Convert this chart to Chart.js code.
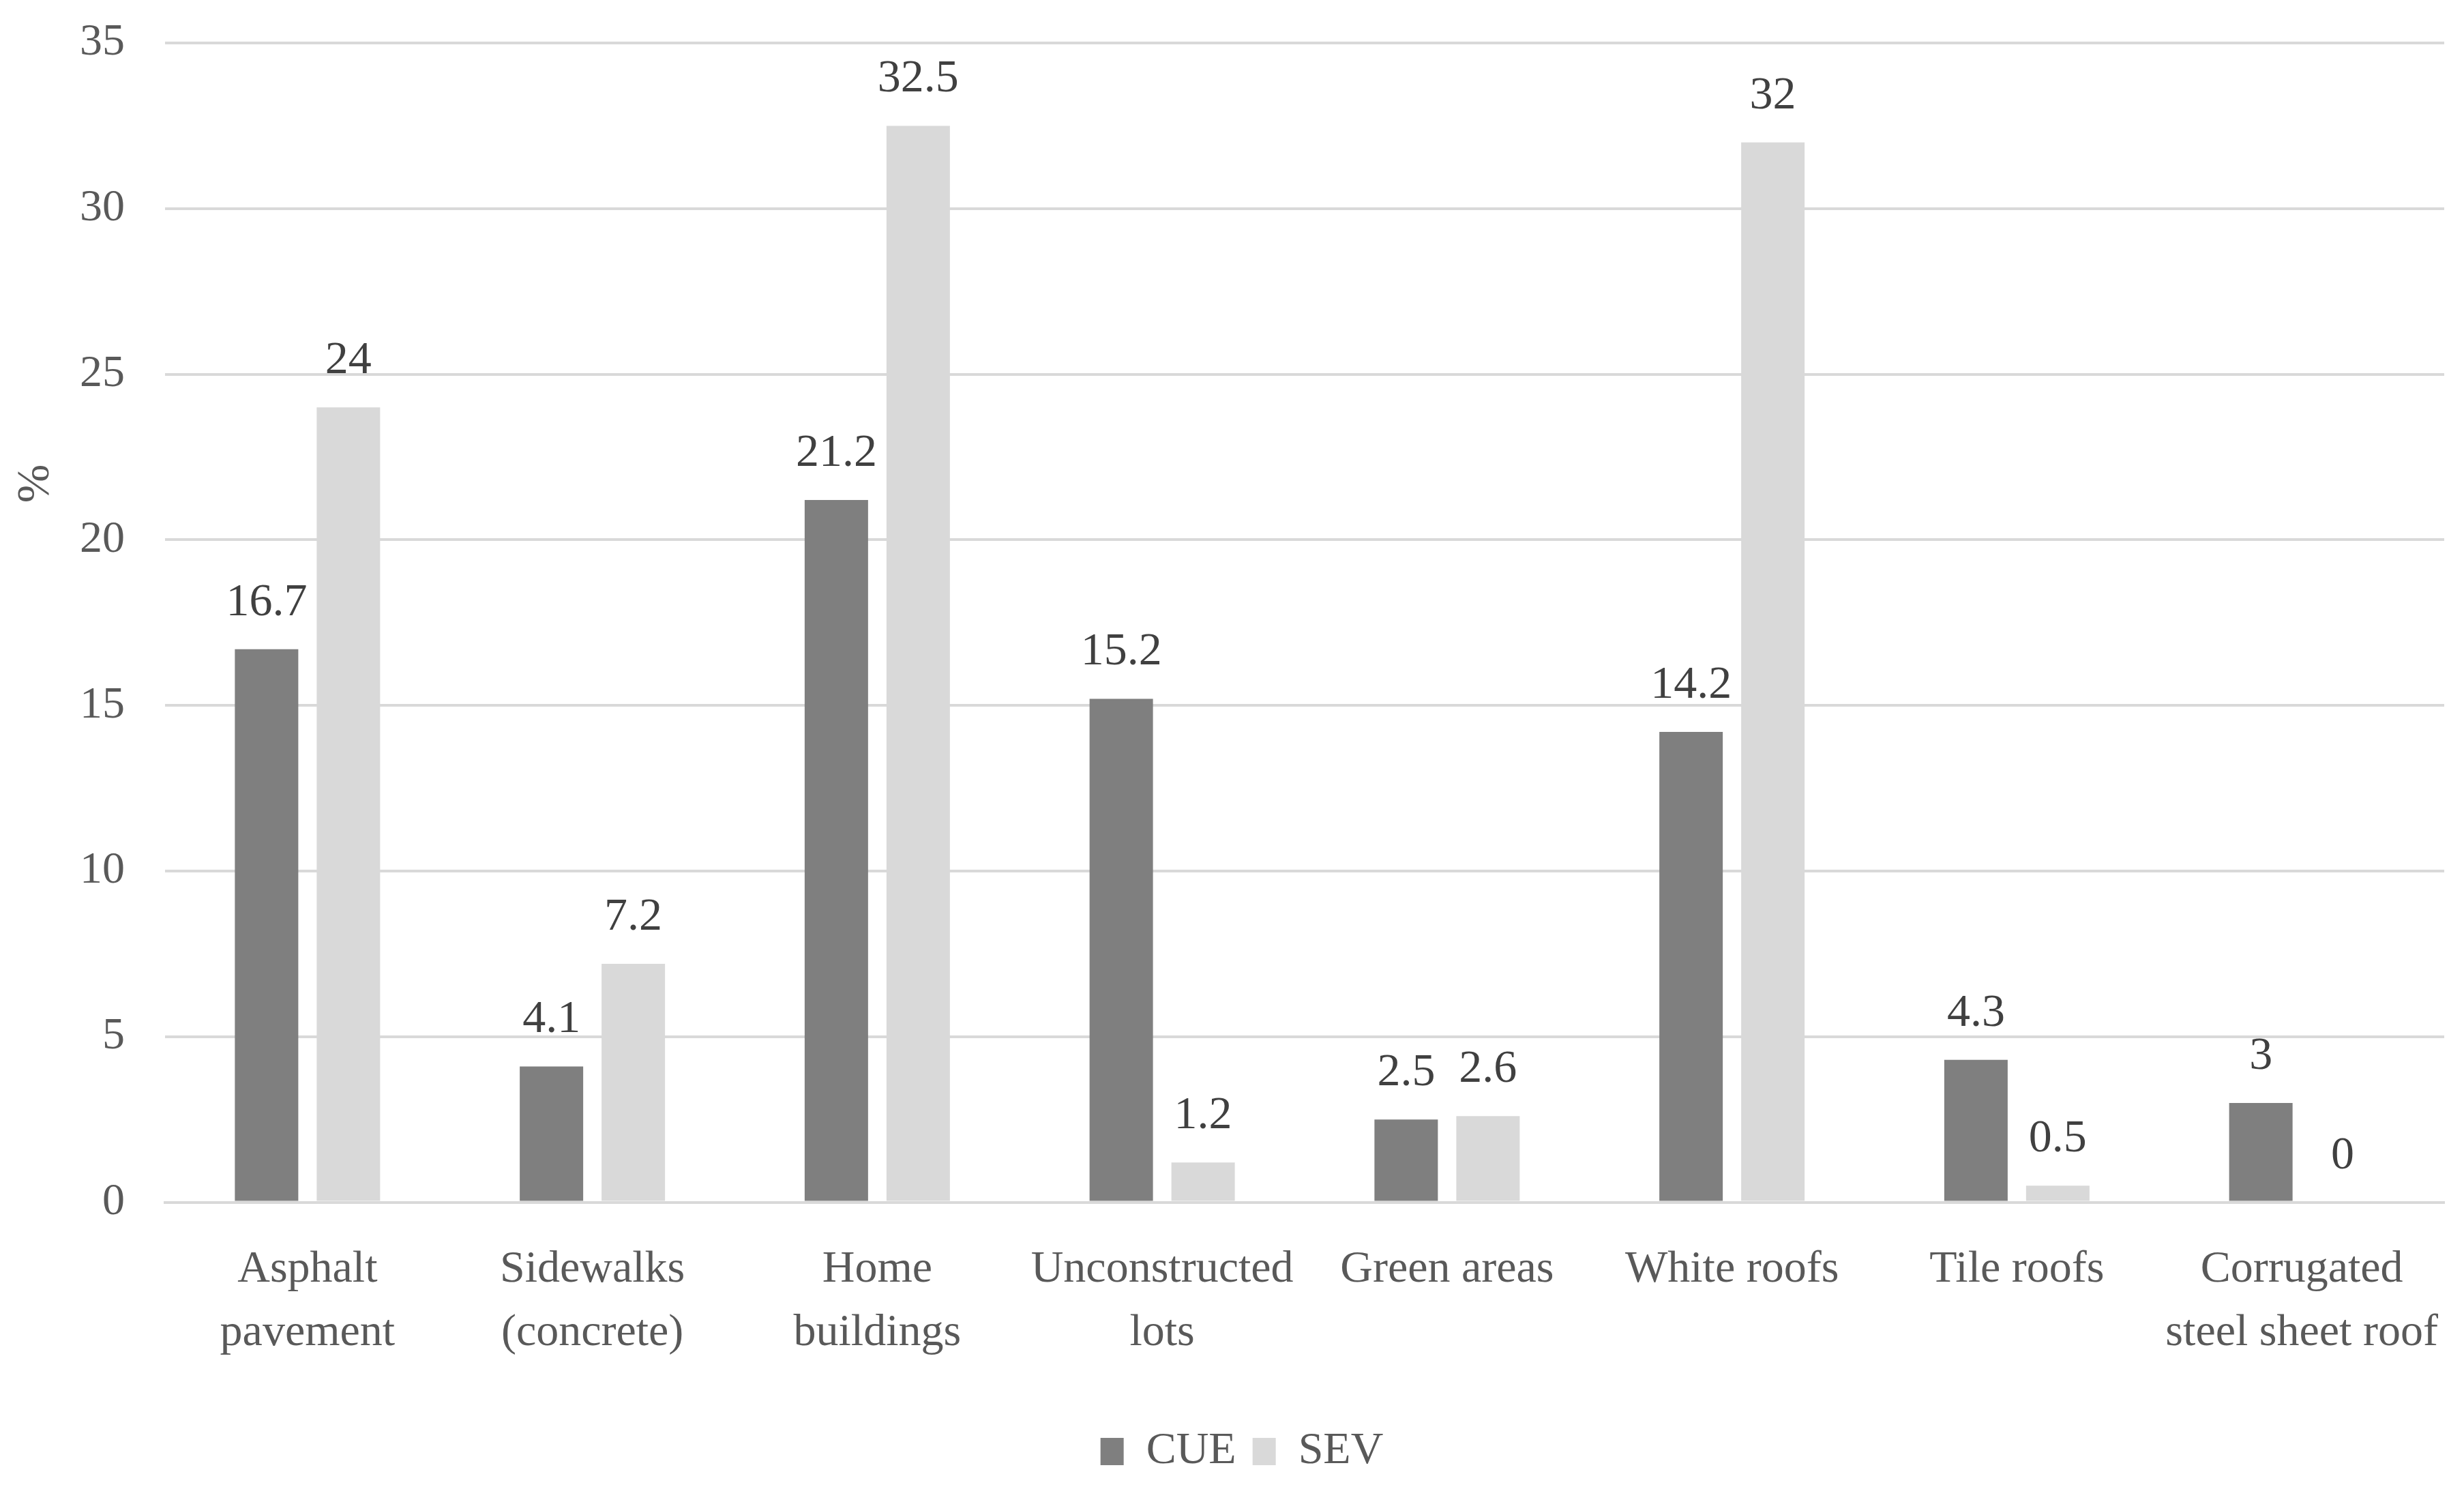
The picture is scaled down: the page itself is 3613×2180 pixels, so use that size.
<!DOCTYPE html>
<html>
<head>
<meta charset="utf-8">
<script src="https://cdn.jsdelivr.net/npm/chart.js@4.4.1/dist/chart.umd.min.js"></script>
<style>
html,body{margin:0;padding:0;background:#fff;}
#wrap{width:3613px;height:2180px;}
</style>
</head>
<body>
<div id="wrap"><canvas id="c" width="3613" height="2180"></canvas></div>
<script>
const categories = [
  ["Asphalt", "pavement"],
  ["Sidewalks", "(concrete)"],
  ["Home", "buildings"],
  ["Unconstructed", "lots"],
  "Green areas",
  "White roofs",
  "Tile roofs",
  ["Corrugated", "steel sheet roof"]
];
const seriesNames = ["CUE", "SEV"];
const cueValues = [16.7, 4.1, 21.2, 15.2, 2.5, 14.2, 4.3, 3];
const sevValues = [24, 7.2, 32.5, 1.2, 2.6, 32, 0.5, 0];
const yTicks = [0, 5, 10, 15, 20, 25, 30, 35];
const yTitle = "%";

const FONT = "'Liberation Serif', 'Times New Roman', serif";
const AXIS_COLOR = "#595959";
const LABEL_COLOR = "#404040";

const valueLabels = {
  id: 'valueLabels',
  afterDatasetsDraw(chart) {
    const ctx = chart.ctx;
    ctx.save();
    ctx.font = "68px " + FONT;
    ctx.fillStyle = LABEL_COLOR;
    ctx.textAlign = 'center';
    ctx.textBaseline = 'alphabetic';
    chart.data.datasets.forEach((ds, di) => {
      const meta = chart.getDatasetMeta(di);
      meta.data.forEach((bar, i) => {
        ctx.fillText(String(ds.data[i]), bar.x, bar.y - 50);
      });
    });
    ctx.restore();
  }
};

const axisTitle = {
  id: 'axisTitle',
  afterDraw(chart) {
    const ctx = chart.ctx;
    const y = chart.scales.y;
    ctx.save();
    ctx.font = "68px " + FONT;
    ctx.fillStyle = AXIS_COLOR;
    ctx.textAlign = 'center';
    ctx.textBaseline = 'middle';
    ctx.translate(53, y.getPixelForValue(21.7));
    ctx.rotate(-Math.PI / 2);
    ctx.fillText(yTitle, 0, 0);
    ctx.restore();
  }
};

new Chart(document.getElementById('c'), {
  type: 'bar',
  data: {
    labels: categories,
    datasets: [
      { label: seriesNames[0], data: cueValues, backgroundColor: '#7f7f7f', borderWidth: 0 },
      { label: seriesNames[1], data: sevValues, backgroundColor: '#d9d9d9', borderWidth: 0 }
    ]
  },
  options: {
    responsive: false,
    devicePixelRatio: 1,
    animation: false,
    categoryPercentage: 0.5745,
    barPercentage: 0.775,
    layout: { padding: { left: 58, right: 29, top: 63, bottom: 9 } },
    plugins: {
      legend: {
        position: 'bottom',
        labels: {
          font: { family: FONT, size: 66 },
          color: AXIS_COLOR,
          boxWidth: 34,
          boxHeight: 40,
          padding: 24
        }
      },
      tooltip: { enabled: false }
    },
    scales: {
      x: {
        afterFit(scale) {
          scale.height += 17;
          scale.paddingLeft = 0;
          scale.paddingRight = 0;
        },
        grid: { display: false, drawTicks: false },
        border: { display: true, color: '#d9d9d9', width: 4 },
        ticks: {
          font: { family: FONT, size: 66, lineHeight: 1.42 },
          color: AXIS_COLOR,
          padding: 52,
          maxRotation: 0,
          autoSkip: false
        }
      },
      y: {
        min: 0,
        max: 35,
        afterFit(scale) {
          scale.width = 184;
          scale.paddingTop = 0;
          scale.paddingBottom = 0;
        },
        afterBuildTicks(scale) { scale.ticks = yTicks.map(v => ({ value: v })); },
        grid: { color: '#d9d9d9', lineWidth: 4, drawTicks: false },
        border: { display: false },
        ticks: {
          font: { family: FONT, size: 66 },
          color: AXIS_COLOR,
          padding: 59
        }
      }
    }
  },
  plugins: [valueLabels, axisTitle]
});
</script>
</body>
</html>
